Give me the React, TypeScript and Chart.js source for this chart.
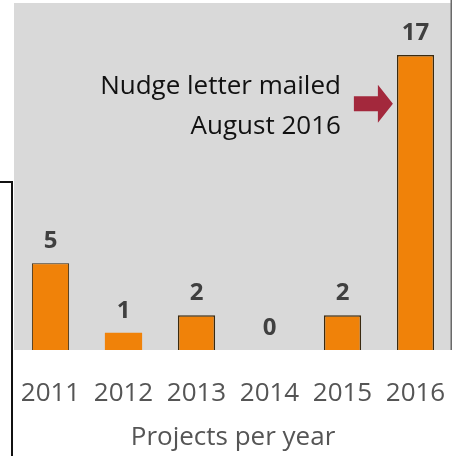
import React, { useEffect, useRef } from "react";
import { Chart, registerables } from "chart.js";

Chart.register(...registerables);

const years = ["2011", "2012", "2013", "2014", "2015", "2016"];
const projects = [5, 1, 2, 0, 2, 17];
const barBorderWidths = [1, 0, 1.5, 0, 1.5, 1.5];
const yMax = 20;
const axisTitle = "Projects per year";
const noteLines = ["Nudge letter mailed", "August 2016"];
const noteValue = 14.2;

const FONT = "'Open Sans', sans-serif";

const decorPlugin = {
  id: "decor",
  beforeDraw(chart: any) {
    const { ctx, chartArea: a } = chart;
    ctx.save();
    ctx.fillStyle = "#d9d9d9";
    ctx.fillRect(a.left, a.top, a.right - a.left, a.bottom - a.top);
    ctx.fillStyle = "#6a6a6a";
    ctx.fillRect(a.right - 1.5, 0, 1.5, a.bottom);
    ctx.restore();
  },
  afterDatasetsDraw(chart: any) {
    const { ctx } = chart;
    const meta = chart.getDatasetMeta(0);
    ctx.save();
    ctx.font = `bold 24px ${FONT}`;
    ctx.fillStyle = "#404040";
    ctx.textAlign = "center";
    ctx.textBaseline = "alphabetic";
    meta.data.forEach((bar: any, i: number) => {
      ctx.fillText(String(projects[i]), bar.x, bar.y - 15);
    });
    ctx.restore();
  },
  afterDraw(chart: any) {
    const { ctx, scales } = chart;
    const meta = chart.getDatasetMeta(0);
    const last = meta.data[meta.data.length - 1];
    const tipX = last.x - last.width / 2 - 4;
    const cy = scales.y.getPixelForValue(noteValue);
    ctx.save();
    // arrow
    ctx.fillStyle = "#a3283c";
    ctx.beginPath();
    ctx.moveTo(tipX, cy);
    ctx.lineTo(tipX - 15, cy - 19);
    ctx.lineTo(tipX - 15, cy - 7.5);
    ctx.lineTo(tipX - 39, cy - 7.5);
    ctx.lineTo(tipX - 39, cy + 7.5);
    ctx.lineTo(tipX - 15, cy + 7.5);
    ctx.lineTo(tipX - 15, cy + 19);
    ctx.closePath();
    ctx.fill();
    // note text
    ctx.font = `26px ${FONT}`;
    ctx.fillStyle = "#111";
    ctx.textAlign = "right";
    ctx.textBaseline = "alphabetic";
    const rx = tipX - 52;
    ctx.fillText(noteLines[0], rx, cy - 10);
    ctx.fillText(noteLines[1], rx, cy + 30);
    // overlapping box edge on the left
    ctx.strokeStyle = "#111";
    ctx.lineWidth = 2;
    ctx.beginPath();
    ctx.moveTo(0, 182);
    ctx.lineTo(12, 182);
    ctx.lineTo(12, chart.height);
    ctx.stroke();
    ctx.restore();
  },
};

export default function App() {
  const ref = useRef<HTMLCanvasElement | null>(null);
  useEffect(() => {
    if (!ref.current) return;
    const chart = new Chart(ref.current, {
      type: "bar",
      data: {
        labels: years,
        datasets: [
          {
            data: projects,
            backgroundColor: "#f08209",
            borderColor: "#3a2a10",
            borderWidth: barBorderWidths,
            barPercentage: 0.51,
            categoryPercentage: 1,
          },
        ],
      },
      options: {
        responsive: false,
        animation: false,
        layout: { padding: { left: 14, right: 1, top: 3, bottom: 0 } },
        plugins: { legend: { display: false }, tooltip: { enabled: false } },
        scales: {
          y: { display: false, min: 0, max: yMax },
          x: {
            grid: { display: false, drawTicks: false },
            border: { display: false },
            afterFit: (s: any) => {
              s.height = 106;
              s.paddingLeft = 0;
              s.paddingRight = 0;
            },
            ticks: {
              color: "#555555",
              font: { family: FONT, size: 26 },
              padding: 28,
              maxRotation: 0,
              autoSkip: false,
            },
            title: {
              display: true,
              text: axisTitle,
              color: "#555555",
              font: { family: FONT, size: 26 },
              padding: { top: 0, bottom: 3 },
            },
          },
        },
      },
      plugins: [decorPlugin],
    });
    return () => chart.destroy();
  }, []);
  return (
    <div style={{ position: "fixed", left: 0, top: 0, width: 453, height: 456, background: "#fff" }}>
      <canvas ref={ref} width={453} height={456} style={{ display: "block" }} />
    </div>
  );
}
